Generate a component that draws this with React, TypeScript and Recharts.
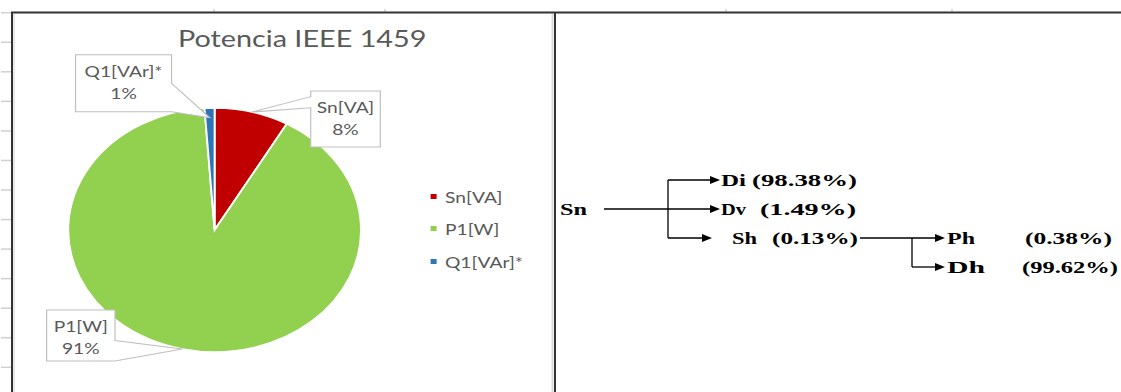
import { Cell, Legend, Pie, PieChart } from 'recharts'

const SLICE_NAMES = ['Sn[VA]', 'P1[W]', 'Q1[VAr]*']
const SLICE_VALUES = [8.2, 90.7, 1.1]
const SLICE_COLORS = ['#c00000', '#92d050', '#2e75b6']

const TREE_NODES = ['Sn', 'Di', 'Dv', 'Sh', 'Ph', 'Dh']
const TREE_SHARES = ['', '(98.38%)', '(1.49%)', '(0.13%)', '(0.38%)', '(99.62%)']

const pieData = SLICE_NAMES.map((name, i) => ({ name, value: SLICE_VALUES[i] }))

// the excel picture is stretched sideways, so the chart is drawn narrow and widened
const STRETCH = 1.2
const CHART_W = 451
const CHART_H = 379
const FONT = 'Lato, "Open Sans", sans-serif'
const GRAY = '#595959'
const RADIAN = Math.PI / 180

// callout boxes, relative to the point the pointer touches
const CALLOUTS = [
  { dx: 49, dy: -21, w: 58, h: 56, side: 'left', from: 0.1, to: 0.3, reach: 1 },
  { dx: -113, dy: -39, w: 57, h: 51, side: 'right', from: 0.6, to: 1, reach: 1 },
  { dx: -112, dy: -63, w: 80, h: 57, side: 'right', from: 0.5, to: 1, reach: 0.92 },
]

// page layout of the breakdown tree on the right
const TREE_LAYOUT = [
  { x: 560, y: 209, w: 27, sx: 0, sw: 0 },
  { x: 721, y: 180, w: 25, sx: 752, sw: 105 },
  { x: 721, y: 209, w: 25, sx: 760, sw: 96 },
  { x: 732, y: 238, w: 25, sx: 772, sw: 86 },
  { x: 947, y: 238, w: 28, sx: 1025, sw: 87 },
  { x: 947, y: 267, w: 38, sx: 1022, sw: 96 },
]
const TREE_ARROWS = [
  [604, 209, 720],
  [668, 180, 720],
  [668, 238, 712],
  [860, 238, 945],
  [912, 267, 945],
]
const TREE_STEMS = [
  [668, 180, 238],
  [912, 238, 267],
]

function renderCallout(props: any) {
  const { cx, cy, midAngle, outerRadius, percent, index } = props
  const c = CALLOUTS[index]
  const r = outerRadius * c.reach
  const tx = cx + r * Math.cos(-midAngle * RADIAN)
  const ty = cy + r * Math.sin(-midAngle * RADIAN)
  const x0 = tx + c.dx
  const y0 = ty + c.dy
  const x1 = x0 + c.w
  const y1 = y0 + c.h
  const a = y0 + c.h * c.from
  const b = y0 + c.h * c.to
  const d =
    c.side === 'right'
      ? `M${x0},${y0}H${x1}V${a}L${tx},${ty}L${x1},${b}V${y1}H${x0}Z`
      : `M${x0},${y0}H${x1}V${y1}H${x0}V${b}L${tx},${ty}L${x0},${a}Z`
  const mid = x0 + c.w / 2
  return (
    <g key={`callout-${index}`}>
      <path d={d} fill="#fff" stroke="#bfbfbf" strokeWidth={1} />
      <text x={mid} y={y0 + 22} textAnchor="middle" fontFamily={FONT} fontSize={16} fill={GRAY}>
        {SLICE_NAMES[index]}
      </text>
      <text x={mid} y={y0 + 44} textAnchor="middle" fontFamily={FONT} fontSize={16} fill={GRAY}>
        {`${Math.round(percent * 100)}%`}
      </text>
    </g>
  )
}

function LegendList() {
  return (
    <div style={{ fontFamily: FONT, fontSize: 16, color: GRAY }}>
      {SLICE_NAMES.map((name, i) => (
        <div key={name} style={{ display: 'flex', alignItems: 'center', height: 32.5 }}>
          <span style={{ width: 4.5, height: 5, background: SLICE_COLORS[i], marginRight: 7.5 }} />
          <span>{name}</span>
        </div>
      ))}
    </div>
  )
}

function Tree() {
  return (
    <g fontFamily='"Liberation Serif", "Times New Roman", serif' fontWeight="bold" fontSize={17} fill="#000">
      {TREE_ARROWS.map(([x1, y, x2], i) => (
        <g key={`a${i}`}>
          <line x1={x1} y1={y} x2={x2 - 8} y2={y} stroke="#000" strokeWidth={1.3} />
          <polygon points={`${x2 - 10},${y - 4} ${x2},${y} ${x2 - 10},${y + 4}`} fill="#000" />
        </g>
      ))}
      {TREE_STEMS.map(([x, y1, y2], i) => (
        <line key={`s${i}`} x1={x} y1={y1} x2={x} y2={y2} stroke="#000" strokeWidth={1.3} />
      ))}
      {TREE_NODES.map((node, i) => {
        const p = TREE_LAYOUT[i]
        return (
          <g key={node}>
            <text x={p.x} y={p.y + 5.5} textLength={p.w} lengthAdjust="spacingAndGlyphs">
              {node}
            </text>
            {TREE_SHARES[i] ? (
              <text x={p.sx} y={p.y + 5.5} textLength={p.sw} lengthAdjust="spacingAndGlyphs">
                {TREE_SHARES[i]}
              </text>
            ) : null}
          </g>
        )
      })}
    </g>
  )
}

export default function App() {
  const rowTicks = Array.from({ length: 13 }, (_, i) => 12.7 + i * 29.55)
  return (
    <div style={{ position: 'absolute', left: 0, top: 0, width: 1121, height: 392, overflow: 'hidden', background: '#fff' }}>
      <svg width={1121} height={392} style={{ position: 'absolute', left: 0, top: 0 }}>
        {rowTicks.map((y) => (
          <line key={y} x1={1} y1={y} x2={11} y2={y} stroke="#d0d0d0" strokeWidth={1.5} />
        ))}
        {[214, 385, 726, 952].map((x) => (
          <line key={x} x1={x} y1={9} x2={x} y2={12} stroke="#d0d0d0" strokeWidth={1.5} />
        ))}
        <line x1={14} y1={14} x2={14} y2={392} stroke="#e2e2e2" strokeWidth={1.5} />
        <line x1={552.5} y1={14} x2={552.5} y2={392} stroke="#d9d9d9" strokeWidth={2} />
        <line x1={11} y1={12.5} x2={1121} y2={12.5} stroke="#333" strokeWidth={2} />
        <line x1={12} y1={12} x2={12} y2={392} stroke="#333" strokeWidth={2} />
        <line x1={555} y1={12} x2={555} y2={392} stroke="#333" strokeWidth={2} />
        <Tree />
      </svg>
      <div
        style={{
          position: 'absolute',
          left: 13,
          top: 14,
          width: CHART_W,
          height: CHART_H,
          transform: `scaleX(${STRETCH})`,
          transformOrigin: '0 0',
        }}
      >
        <svg width={CHART_W} height={50} style={{ position: 'absolute', left: 0, top: 0 }}>
          <text x={241} y={33} textAnchor="middle" fontFamily={FONT} fontSize={24} fill={GRAY}>
            Potencia IEEE 1459
          </text>
        </svg>
        <PieChart width={CHART_W} height={CHART_H} margin={{ top: 0, right: 0, bottom: 0, left: 0 }}>
          <Pie
            data={pieData}
            dataKey="value"
            nameKey="name"
            cx={168}
            cy={216}
            outerRadius={122}
            startAngle={90}
            endAngle={-270}
            stroke="#fff"
            strokeWidth={1.6}
            label={renderCallout}
            labelLine={false}
            isAnimationActive={false}
          >
            {pieData.map((entry, i) => (
              <Cell key={entry.name} fill={SLICE_COLORS[i]} />
            ))}
          </Pie>
          <Legend
            layout="vertical"
            verticalAlign="top"
            align="right"
            wrapperStyle={{ left: 348, top: 166, width: 100 }}
            content={() => <LegendList />}
          />
        </PieChart>
      </div>
    </div>
  )
}
